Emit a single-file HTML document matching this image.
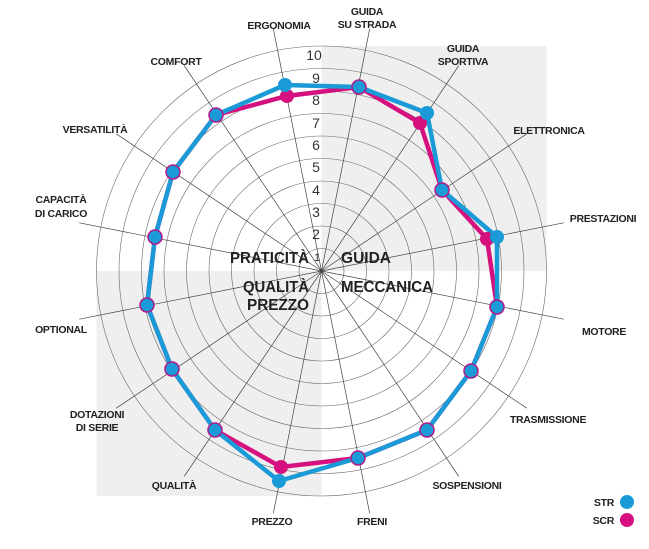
<!DOCTYPE html>
<html><head><meta charset="utf-8"><style>html,body{margin:0;padding:0;background:#fff}svg{display:block}</style></head><body>
<svg width="649" height="549" viewBox="0 0 649 549" xmlns="http://www.w3.org/2000/svg" font-family="Liberation Sans, sans-serif">
<rect x="321.5" y="46" width="225" height="225" fill="#efefef"/>
<rect x="96.5" y="271" width="225" height="225" fill="#efefef"/>
<g fill="none" stroke="#666" stroke-width="0.6" id="rings"></g>
<g stroke="#444" stroke-width="0.7" id="spokes"></g>
<g font-size="14" fill="#333" text-anchor="middle">
<text x="314" y="60">10</text><text x="316" y="83">9</text><text x="316" y="105">8</text><text x="316" y="128">7</text><text x="316" y="150">6</text><text x="316" y="172">5</text><text x="316" y="195">4</text><text x="316" y="217">3</text><text x="316" y="239">2</text><text x="317" y="261" font-size="11">1</text>
</g>
<g font-size="16" font-weight="bold" fill="#222">
<text x="309" y="263" text-anchor="end" textLength="79" lengthAdjust="spacingAndGlyphs">PRATICITÀ</text>
<text x="341" y="263" textLength="50" lengthAdjust="spacingAndGlyphs">GUIDA</text>
<text x="309" y="292" text-anchor="end" textLength="66" lengthAdjust="spacingAndGlyphs">QUALITÀ</text>
<text x="309" y="310" text-anchor="end" textLength="62" lengthAdjust="spacingAndGlyphs">PREZZO</text>
<text x="341" y="292" textLength="92" lengthAdjust="spacingAndGlyphs">MECCANICA</text>
</g>
<g font-size="10.5" font-weight="bold" fill="#222" text-anchor="middle" letter-spacing="-0.3">
<text x="279" y="29">ERGONOMIA</text>
<text x="367" y="15">GUIDA</text><text x="367" y="28">SU STRADA</text>
<text x="463" y="52">GUIDA</text><text x="463" y="65">SPORTIVA</text>
<text x="549" y="134">ELETTRONICA</text>
<text x="603" y="222">PRESTAZIONI</text>
<text x="604" y="335">MOTORE</text>
<text x="548" y="423">TRASMISSIONE</text>
<text x="467" y="489">SOSPENSIONI</text>
<text x="372" y="525">FRENI</text>
<text x="272" y="525">PREZZO</text>
<text x="174" y="489">QUALITÀ</text>
<text x="97" y="418">DOTAZIONI</text><text x="97" y="431">DI SERIE</text>
<text x="61" y="333">OPTIONAL</text>
<text x="61" y="203">CAPACITÀ</text><text x="61" y="217">DI CARICO</text>
<text x="95" y="133">VERSATILITÀ</text>
<text x="176" y="65">COMFORT</text>
<text x="614" y="506" text-anchor="end">STR</text>
<text x="614" y="524" text-anchor="end">SCR</text>
</g>
<circle cx="627" cy="502" r="7" fill="#1a9ad6"/>
<circle cx="627" cy="520" r="7" fill="#d4117f"/>
<polygon fill="none" stroke="#d4117f" stroke-width="4.5" stroke-linejoin="round" points="287,96 359,87 420,123 442,190 487,239 497,307 471,371 427,430 358,458 281,467 215,430 172,369 147,305 155,237 173,172 216,115"/>
<polygon fill="none" stroke="#1a9ad6" stroke-width="4.5" stroke-linejoin="round" points="285,85 359,87 427,113 442,190 497,237 497,307 471,371 427,430 358,458 279,481 215,430 172,369 147,305 155,237 173,172 216,115"/>
<g id="dots"></g>
<script>
var ns="http://www.w3.org/2000/svg",cx=321.5,cy=271;
var r=document.getElementById("rings");
for(var i=1;i<=10;i++){var c=document.createElementNS(ns,"circle");c.setAttribute("cx",cx);c.setAttribute("cy",cy);c.setAttribute("r",22.5*i);r.appendChild(c);}
var s=document.getElementById("spokes");
for(var k=0;k<16;k++){var a=(-90-11.25+22.5*k)*Math.PI/180;var L=247;var l=document.createElementNS(ns,"line");l.setAttribute("x1",cx);l.setAttribute("y1",cy);l.setAttribute("x2",cx+L*Math.cos(a));l.setAttribute("y2",cy+L*Math.sin(a));s.appendChild(l);}
var d=document.getElementById("dots");
function dot(x,y,f,st){var c=document.createElementNS(ns,"circle");c.setAttribute("cx",x);c.setAttribute("cy",y);c.setAttribute("r",7);c.setAttribute("fill",f);if(st){c.setAttribute("stroke",st);c.setAttribute("stroke-width","1.5");}d.appendChild(c);}
var m=[[287,96],[420,123],[487,239],[281,467]];
m.forEach(function(p){dot(p[0],p[1],"#d4117f");});
var b=[[285,85],[359,87],[427,113],[442,190],[497,237],[497,307],[471,371],[427,430],[358,458],[279,481],[215,430],[172,369],[147,305],[155,237],[173,172],[216,115]];
var same={1:1,3:1,5:1,6:1,7:1,8:1,10:1,11:1,12:1,13:1,14:1,15:1};
b.forEach(function(p,i){dot(p[0],p[1],"#1a9ad6",same[i]?"#b01a8a":null);});
</script>
</svg>
</body></html>
